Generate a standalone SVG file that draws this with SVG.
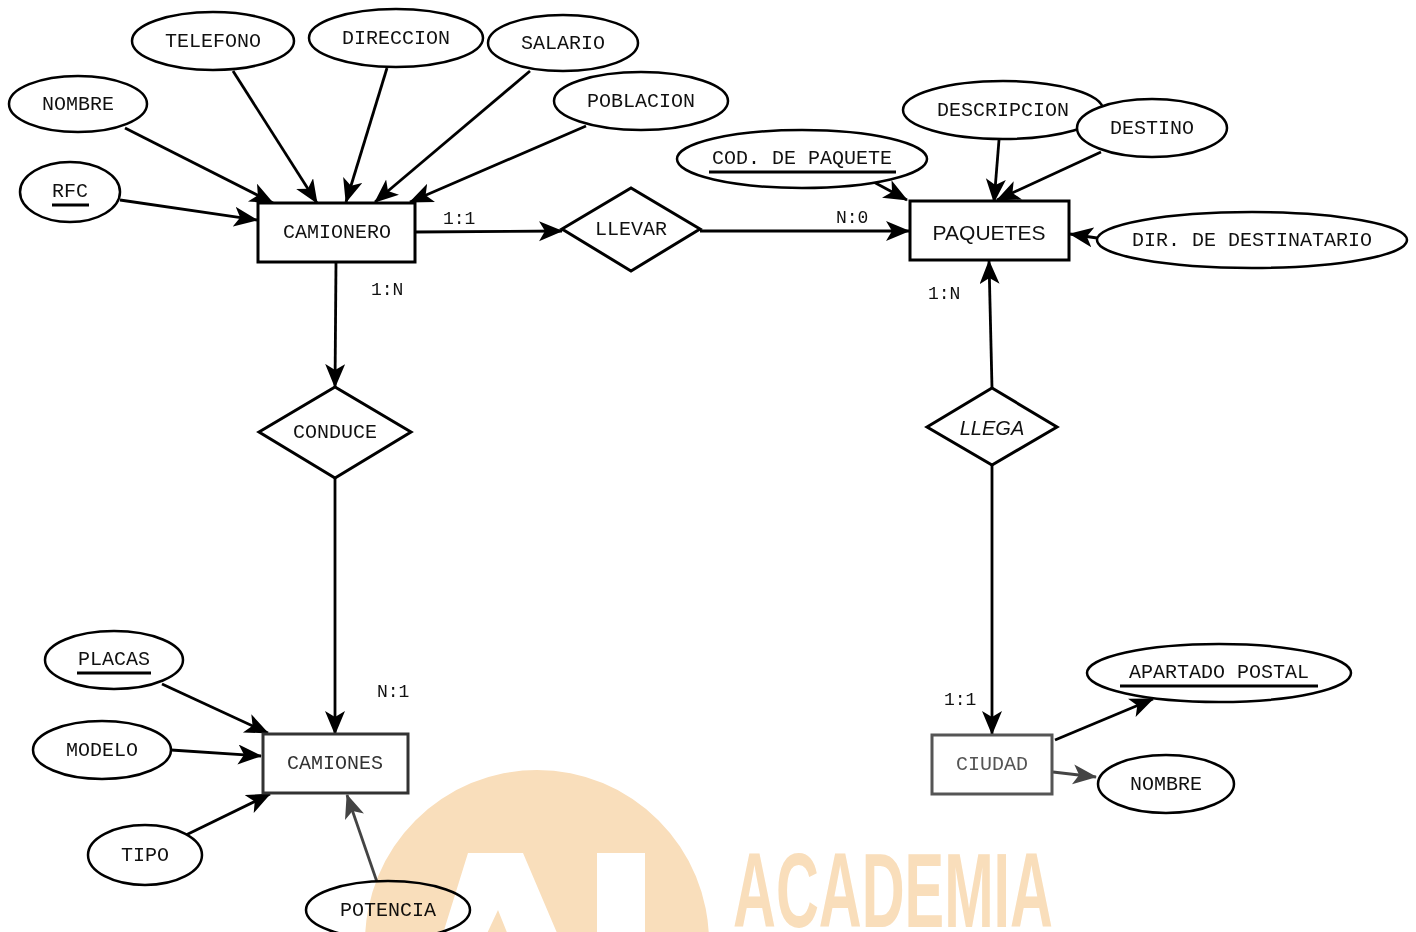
<svg xmlns="http://www.w3.org/2000/svg" width="1416" height="932" viewBox="0 0 1416 932">
<style>
.e{fill:#fff;stroke:#000;stroke-width:2.5}
.r{fill:#fff;stroke:#000;stroke-width:3}
.t{font-family:"Liberation Mono","Courier New",monospace;font-size:20px;fill:#111;text-anchor:middle;dominant-baseline:central}
.c{font-family:"Liberation Mono","Courier New",monospace;font-size:18px;fill:#111}
.l{stroke:#000;stroke-width:2.8;fill:none}
.g{stroke:#444;stroke-width:2.8;fill:none}
.u{stroke:#000;stroke-width:3}
</style>
<defs>
<marker id="a" markerUnits="userSpaceOnUse" markerWidth="26" markerHeight="22" refX="23" refY="10" orient="auto">
<path d="M0,0 L24,10 L0,20 L6,10 Z" fill="#000"/>
</marker>
<marker id="ag" markerUnits="userSpaceOnUse" markerWidth="26" markerHeight="22" refX="23" refY="10" orient="auto">
<path d="M0,0 L24,10 L0,20 L6,10 Z" fill="#444"/>
</marker>
</defs>
<rect width="1416" height="932" fill="#fff"/>
<g id="connectors">
<line class="l" x1="233" y1="71" x2="317" y2="203" marker-end="url(#a)"/>
<line class="l" x1="387" y1="68" x2="346" y2="202" marker-end="url(#a)"/>
<line class="l" x1="530" y1="71" x2="375" y2="202" marker-end="url(#a)"/>
<line class="l" x1="586" y1="126" x2="410" y2="202" marker-end="url(#a)"/>
<line class="l" x1="125" y1="128" x2="273" y2="203" marker-end="url(#a)"/>
<line class="l" x1="120" y1="200" x2="257" y2="220" marker-end="url(#a)"/>
<line class="l" x1="415" y1="232" x2="562" y2="231" marker-end="url(#a)"/>
<line class="l" x1="700" y1="231" x2="909" y2="231" marker-end="url(#a)"/>
<line class="l" x1="870" y1="180" x2="907" y2="200" marker-end="url(#a)"/>
<line class="l" x1="999" y1="140" x2="994" y2="202" marker-end="url(#a)"/>
<line class="l" x1="1101" y1="152" x2="997" y2="200" marker-end="url(#a)"/>
<line class="l" x1="1097" y1="238" x2="1070" y2="234" marker-end="url(#a)"/>
<line class="l" x1="336" y1="262" x2="335" y2="387" marker-end="url(#a)"/>
<line class="l" x1="335" y1="478" x2="335" y2="734" marker-end="url(#a)"/>
<line class="l" x1="992" y1="388" x2="989" y2="261" marker-end="url(#a)"/>
<line class="l" x1="992" y1="465" x2="992" y2="734" marker-end="url(#a)"/>
<line class="l" x1="162" y1="684" x2="268" y2="733" marker-end="url(#a)"/>
<line class="l" x1="171" y1="750" x2="261" y2="756" marker-end="url(#a)"/>
<line class="l" x1="186" y1="835" x2="270" y2="794" marker-end="url(#a)"/>
<line class="g" x1="377" y1="882" x2="347" y2="795" marker-end="url(#ag)"/>
<line class="l" x1="1055" y1="740" x2="1153" y2="699" marker-end="url(#a)"/>
<line class="g" x1="1053" y1="772" x2="1096" y2="777" marker-end="url(#ag)"/>
</g>
<g id="labels">
<text class="c" x="443" y="224">1:1</text>
<text class="c" x="836" y="223">N:0</text>
<text class="c" x="371" y="295">1:N</text>
<text class="c" x="928" y="299">1:N</text>
<text class="c" x="377" y="697">N:1</text>
<text class="c" x="944" y="705">1:1</text>
</g>
<g id="camionero"><rect class="r" x="258" y="203" width="157" height="59"/><text class="t" x="337" y="232">CAMIONERO</text></g>
<g id="llevar"><polygon class="r" points="562,229 631,188 700,229 631,271"/><text class="t" x="631" y="229">LLEVAR</text></g>
<g id="paquetes"><rect class="r" x="910" y="201" width="159" height="59"/><text class="t" x="989" y="232" style="font-family:'Liberation Sans',Arial,sans-serif;font-size:21px">PAQUETES</text></g>
<g id="conduce"><polygon class="r" points="259,432 335,387 411,432 335,478"/><text class="t" x="335" y="432">CONDUCE</text></g>
<g id="llega"><polygon class="r" points="927,427 992,388 1057,427 992,465"/><text class="t" x="992" y="428" style="font-family:'Liberation Sans',Arial,sans-serif;font-style:italic;font-size:20px">LLEGA</text></g>
<g id="camiones"><rect class="r" x="263" y="734" width="145" height="59" style="stroke:#333"/><text class="t" x="335" y="763" style="fill:#333">CAMIONES</text></g>
<g id="ciudad"><rect class="r" x="932" y="735" width="120" height="59" style="stroke:#555"/><text class="t" x="992" y="764" style="fill:#555">CIUDAD</text></g>
<g id="telefono"><ellipse class="e" cx="213" cy="41" rx="81" ry="29"/><text class="t" x="213" y="41">TELEFONO</text></g>
<g id="direccion"><ellipse class="e" cx="396" cy="38" rx="87" ry="29"/><text class="t" x="396" y="38">DIRECCION</text></g>
<g id="salario"><ellipse class="e" cx="563" cy="43" rx="75" ry="28"/><text class="t" x="563" y="43">SALARIO</text></g>
<g id="nombre"><ellipse class="e" cx="78" cy="104" rx="69" ry="28"/><text class="t" x="78" y="104">NOMBRE</text></g>
<g id="poblacion"><ellipse class="e" cx="641" cy="101" rx="87" ry="29"/><text class="t" x="641" y="101">POBLACION</text></g>
<g id="rfc"><ellipse class="e" cx="70" cy="192" rx="50" ry="30"/><text class="t" x="70" y="191">RFC</text><line class="u" x1="52" y1="205" x2="89" y2="205"/></g>
<g id="cod"><ellipse class="e" cx="802" cy="159" rx="125" ry="29"/><text class="t" x="802" y="158">COD. DE PAQUETE</text><line class="u" x1="709" y1="172" x2="896" y2="172"/></g>
<g id="descripcion"><ellipse class="e" cx="1003" cy="110" rx="100" ry="29"/><text class="t" x="1003" y="110">DESCRIPCION</text></g>
<g id="destino"><ellipse class="e" cx="1152" cy="128" rx="75" ry="29"/><text class="t" x="1152" y="128">DESTINO</text></g>
<g id="dirdest"><ellipse class="e" cx="1252" cy="240" rx="155" ry="28"/><text class="t" x="1252" y="240">DIR. DE DESTINATARIO</text></g>
<g id="placas"><ellipse class="e" cx="114" cy="660" rx="69" ry="29"/><text class="t" x="114" y="659">PLACAS</text><line class="u" x1="77" y1="673" x2="151" y2="673"/></g>
<g id="modelo"><ellipse class="e" cx="102" cy="750" rx="69" ry="29"/><text class="t" x="102" y="750">MODELO</text></g>
<g id="tipo"><ellipse class="e" cx="145" cy="855" rx="57" ry="30"/><text class="t" x="145" y="855">TIPO</text></g>
<g id="potencia"><ellipse class="e" cx="388" cy="910" rx="82" ry="29"/><text class="t" x="388" y="910">POTENCIA</text></g>
<g id="apartado"><ellipse class="e" cx="1219" cy="673" rx="132" ry="29"/><text class="t" x="1219" y="672">APARTADO POSTAL</text><line class="u" x1="1120" y1="686" x2="1318" y2="686"/></g>
<g id="nombre2"><ellipse class="e" cx="1166" cy="784" rx="68" ry="29"/><text class="t" x="1166" y="784">NOMBRE</text></g>
<g id="watermark" style="mix-blend-mode:multiply">
<path fill="#F9DEBB" fill-rule="evenodd" d="M365,942 A172,172 0 1 1 709,942 A172,172 0 1 1 365,942 Z M468,853 L523,853 L560,940 L510,940 L498,910 L484,940 L441,940 Z M597,853 L645,853 L645,940 L597,940 Z"/>
<text x="733" y="927" textLength="320" lengthAdjust="spacingAndGlyphs" style="font-family:'Liberation Sans',Arial,sans-serif;font-weight:bold;font-size:105px;fill:#F9DEBB">ACADEMIA</text>
</g>
</svg>
